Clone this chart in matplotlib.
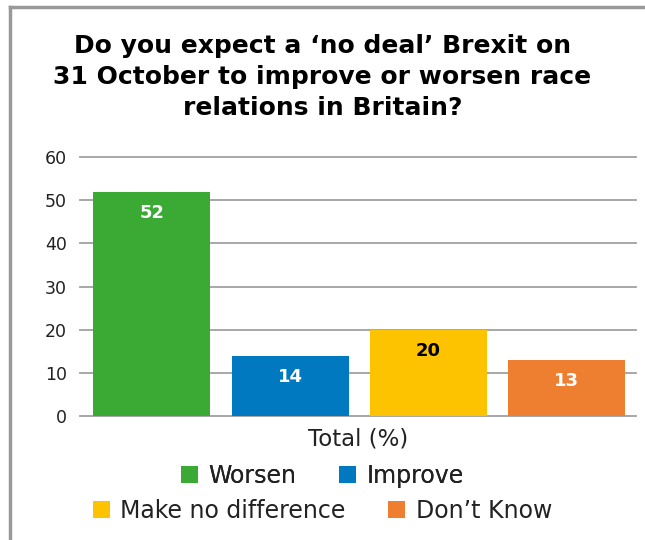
import matplotlib
matplotlib.use("Agg")
import matplotlib.pyplot as plt
from matplotlib.lines import Line2D
from matplotlib.patches import Patch

categories = ["Worsen", "Improve", "Make no difference", "Don\u2019t Know"]
values = [52, 14, 20, 13]
colors = ["#3BAA35", "#0079C1", "#FDC300", "#EF7F30"]
label_colors = ["white", "white", "black", "white"]
yticks = [0, 10, 20, 30, 40, 50, 60]
title = "Do you expect a \u2018no deal\u2019 Brexit on\n31 October to improve or worsen race\nrelations in Britain?"
xlabel = "Total (%)"

W, H = 645, 540
fig = plt.figure(figsize=(W/100, H/100), dpi=100)
ax = fig.add_axes([80/W, 1-416/H, (636-80)/W, (416-157)/H])

x = list(range(len(values)))
bars = ax.bar(x, values, width=0.845, color=colors, zorder=3)
for xi, v, lc in zip(x, values, label_colors):
    ax.annotate(str(v), (xi, v), xytext=(0, -21), textcoords="offset pixels",
                ha="center", va="center", color=lc, fontsize=13, fontweight="bold", zorder=4)

ax.set_ylim(0, 60)
ax.set_xlim(-0.52, 3.5)
ax.set_yticks(yticks)
ax.set_yticklabels([str(t) for t in yticks], fontsize=12.5, color="#222222")
ax.set_xticks([])
ax.yaxis.grid(True, color="#a0a0a0", linewidth=1.3, zorder=0)
for gl in ax.get_ygridlines():
    gl.set_clip_on(False)
ax.tick_params(axis="y", length=0, pad=9.5)
for s in ax.spines.values():
    s.set_visible(False)
ax.set_xlabel(xlabel, fontsize=16.5, color="#222222", labelpad=8)

fig.text(0.5, 1-77/H, title, ha="center", va="center", fontsize=18, fontweight="bold",
         family=["DejaVu Sans"], linespacing=1.38, color="black")

# frame lines (left and top)
fig.add_artist(Line2D([9.5/W, 9.5/W], [0, 1-6.5/H], transform=fig.transFigure, color="#999999", lw=2.5))
fig.add_artist(Line2D([9.5/W, 1], [1-6.5/H, 1-6.5/H], transform=fig.transFigure, color="#999999", lw=2.5))

h = [Patch(facecolor=c) for c in colors]
kw = dict(ncol=2, loc="center", frameon=False, fontsize=17, handlelength=0.72,
          handleheight=0.72, handletextpad=0.45, columnspacing=1.8, labelcolor="#222222")
leg1 = fig.legend(h[:2], categories[:2], bbox_to_anchor=(0.5, 1-476/H), **kw)
leg2 = fig.legend(h[2:], categories[2:], bbox_to_anchor=(0.5, 1-511/H), **kw)
fig.add_artist(leg1)

fig.savefig("out.png", dpi=100, facecolor="white")
